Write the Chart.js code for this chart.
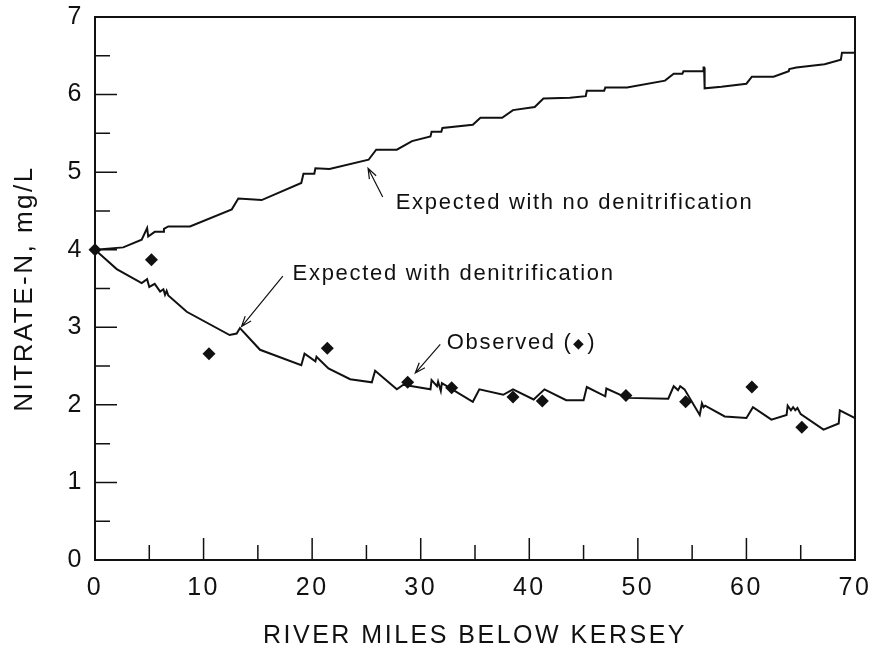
<!DOCTYPE html>
<html>
<head>
<meta charset="utf-8">
<title>Nitrate-N below Kersey</title>
<script src="https://cdn.jsdelivr.net/npm/chart.js@4.4.1/dist/chart.umd.min.js"></script>
<style>
  html, body { margin: 0; padding: 0; background: #fff; }
  canvas { display: block; }
</style>
</head>
<body>
<canvas id="chart" width="871" height="654"></canvas>
<script>
// expected with no denitrification (river miles, mg/L)
const noDenitMiles = [0, 2.6, 4.3, 4.8, 4.9, 5.5, 6.3, 6.35, 6.75, 8.75, 12.6, 13.2, 15.35, 19.0, 19.2, 20.2, 20.3, 21.6,
  25.2, 25.9, 27.8, 29.2, 30.9, 31.0, 31.9, 32.0, 34.8, 35.5, 37.5, 38.5, 40.5, 41.3, 43.75, 45.2, 45.3, 46.9, 47.0,
  49.0, 52.5, 53.3, 54.1, 54.2, 56.0, 56.05, 56.1, 56.15, 57.7, 60.0, 60.5, 62.5, 63.9, 63.95, 64.6, 67.2, 68.7, 68.8, 70];
const noDenitN = [4.00, 4.03, 4.13, 4.28, 4.17, 4.23, 4.23, 4.27, 4.30, 4.30, 4.52, 4.66, 4.64, 4.86, 4.98, 4.98, 5.05, 5.04,
  5.16, 5.29, 5.29, 5.40, 5.46, 5.52, 5.52, 5.57, 5.61, 5.70, 5.70, 5.80, 5.84, 5.95, 5.96, 5.98, 6.05, 6.05, 6.09,
  6.09, 6.18, 6.27, 6.27, 6.30, 6.30, 6.35, 6.35, 6.08, 6.10, 6.14, 6.23, 6.23, 6.30, 6.33, 6.35, 6.39, 6.45, 6.54, 6.54];

// expected with denitrification
const denitMiles = [0, 2.0, 4.3, 4.8, 5.0, 5.5, 6.0, 6.3, 6.45, 6.6, 6.75, 8.45, 12.4, 13.05, 13.35, 15.2, 19.0, 19.3,
  20.3, 20.4, 21.5, 23.5, 25.5, 25.8, 27.8, 28.4, 30.9, 31.0, 31.5, 31.6, 31.85, 31.95, 34.8, 35.4, 37.6, 38.5, 40.4,
  41.4, 43.4, 45.0, 45.3, 47.0, 47.1, 49.0, 52.8, 53.3, 53.7, 53.9, 54.3, 55.7, 55.9, 56.05, 56.2, 58.0, 60.0, 60.6,
  62.3, 63.7, 63.8, 64.1, 64.3, 64.5, 64.7, 65.0, 67.1, 68.5, 68.6, 70];
const denitN = [4.00, 3.75, 3.57, 3.62, 3.52, 3.56, 3.46, 3.49, 3.42, 3.47, 3.41, 3.20, 2.90, 2.92, 2.99, 2.71, 2.51, 2.66,
  2.56, 2.62, 2.47, 2.33, 2.29, 2.44, 2.20, 2.26, 2.20, 2.32, 2.24, 2.30, 2.18, 2.28, 2.04, 2.20, 2.13, 2.20, 2.07,
  2.20, 2.06, 2.06, 2.23, 2.11, 2.21, 2.09, 2.08, 2.24, 2.19, 2.24, 2.20, 1.87, 2.02, 1.97, 1.99, 1.85, 1.83, 1.97,
  1.81, 1.87, 1.99, 1.93, 1.97, 1.93, 1.96, 1.88, 1.68, 1.76, 1.93, 1.83];

// observed samples
const obsMiles = [0, 5.2, 10.5, 21.4, 28.8, 32.85, 38.5, 41.2, 48.9, 54.4, 60.5, 65.1];
const obsN = [4.00, 3.87, 2.66, 2.73, 2.29, 2.22, 2.10, 2.05, 2.12, 2.04, 2.23, 1.71];

const xTicks = [0, 10, 20, 30, 40, 50, 60, 70];
const yTicks = [0, 1, 2, 3, 4, 5, 6, 7];

// labels with arrows, in data units (text start, arrow from -> tip)
const notes = [
  { text: ['Expected with no denitrification'], tx: 27.7, ty: 4.60, ax: 26.5, ay: 4.68, bx: 25.15, by: 5.05 },
  { text: ['Expected with denitrification'], tx: 18.2, ty: 3.69, ax: 17.3, ay: 3.66, bx: 13.5, by: 3.01 },
  { text: ['Observed (', '\u25C6', ')'], tx: 32.4, ty: 2.80, ax: 31.8, ay: 2.78, bx: 29.5, by: 2.41 }
];

const toPts = (xs, ys) => xs.map((x, i) => ({ x: x, y: ys[i] }));
const INK = '#111';
const FONT = '"Liberation Sans", Arial, sans-serif';

function arrow(ctx, x1, y1, x2, y2) {
  const a = Math.atan2(y2 - y1, x2 - x1);
  const h = 11;
  ctx.beginPath();
  ctx.moveTo(x1, y1);
  ctx.lineTo(x2, y2);
  ctx.moveTo(x2 - h * Math.cos(a - 0.35), y2 - h * Math.sin(a - 0.35));
  ctx.lineTo(x2, y2);
  ctx.lineTo(x2 - h * Math.cos(a + 0.35), y2 - h * Math.sin(a + 0.35));
  ctx.stroke();
}

const overlay = {
  id: 'overlay',
  beforeDraw(chart) {
    chart.ctx.letterSpacing = '2.5px';
  },
  afterDatasetsDraw(chart) {
    const { ctx, chartArea: a, scales: { x, y } } = chart;
    ctx.save();
    ctx.strokeStyle = INK;
    // inward ticks
    ctx.lineWidth = 1.5;
    ctx.beginPath();
    for (let v = 5; v < 70; v += 5) {
      const px = x.getPixelForValue(v);
      const len = v % 10 === 0 ? 22 : 15;
      ctx.moveTo(px, a.bottom);
      ctx.lineTo(px, a.bottom - len);
    }
    for (let v = 0.5; v < 7; v += 0.5) {
      const py = y.getPixelForValue(v);
      const len = v % 1 === 0 ? 22 : 15;
      ctx.moveTo(a.left, py);
      ctx.lineTo(a.left + len, py);
    }
    ctx.stroke();
    // frame
    ctx.lineWidth = 2;
    ctx.strokeRect(a.left, a.top, a.right - a.left, a.bottom - a.top);

    // annotations
    ctx.fillStyle = INK;
    ctx.letterSpacing = '1.7px';
    ctx.textAlign = 'left';
    ctx.textBaseline = 'middle';
    ctx.lineWidth = 1.2;
    notes.forEach(n => {
      let px = x.getPixelForValue(n.tx);
      const py = y.getPixelForValue(n.ty);
      n.text.forEach(part => {
        const small = part === '\u25C6';
        ctx.font = (small ? '14px ' : '22px ') + FONT;
        ctx.fillText(part, px, small ? py + 1 : py);
        px += ctx.measureText(part).width + (small ? 2 : 0);
      });
      arrow(ctx, x.getPixelForValue(n.ax), y.getPixelForValue(n.ay),
        x.getPixelForValue(n.bx), y.getPixelForValue(n.by));
    });
    ctx.restore();
  }
};

const lineStyle = {
  showLine: true, borderColor: INK, borderWidth: 2, pointRadius: 0, fill: false, tension: 0
};

new Chart(document.getElementById('chart'), {
  type: 'scatter',
  data: {
    datasets: [
      Object.assign({ label: 'Expected with no denitrification', data: toPts(noDenitMiles, noDenitN) }, lineStyle),
      Object.assign({ label: 'Expected with denitrification', data: toPts(denitMiles, denitN) }, lineStyle),
      {
        label: 'Observed', data: toPts(obsMiles, obsN), showLine: false, clip: false,
        pointStyle: 'rectRot', pointRadius: 6.5, borderWidth: 0,
        backgroundColor: INK, borderColor: INK
      }
    ]
  },
  options: {
    responsive: false,
    animation: false,
    layout: { padding: { top: 17, right: 16, left: 0, bottom: 0 } },
    plugins: { legend: { display: false }, tooltip: { enabled: false } },
    scales: {
      x: {
        type: 'linear', min: 0, max: 70,
        afterBuildTicks: s => { s.ticks = xTicks.map(v => ({ value: v })); },
        afterFit: s => { s.height = 94; s.paddingLeft = 0; s.paddingRight = 0; },
        grid: { display: false, drawTicks: false },
        border: { display: false },
        ticks: {
          color: INK, padding: 13, maxRotation: 0, autoSkip: false,
          font: { family: FONT, size: 25 }
        },
        title: {
          display: true, text: 'RIVER MILES BELOW KERSEY', color: INK,
          font: { family: FONT, size: 25 },
          padding: { top: 0, bottom: 3 }
        }
      },
      y: {
        type: 'linear', min: 0, max: 7,
        afterBuildTicks: s => { s.ticks = yTicks.map(v => ({ value: v })); },
        afterFit: s => { s.width = 95; s.paddingTop = 0; s.paddingBottom = 0; },
        grid: { display: false, drawTicks: false },
        border: { display: false },
        ticks: {
          color: INK, padding: 11,
          font: { family: FONT, size: 25 }
        },
        title: {
          display: true, text: 'NITRATE-N, mg/L', color: INK,
          font: { family: FONT, size: 26 },
          padding: { top: 9, bottom: 0 }
        }
      }
    }
  },
  plugins: [overlay]
});
</script>
</body>
</html>
